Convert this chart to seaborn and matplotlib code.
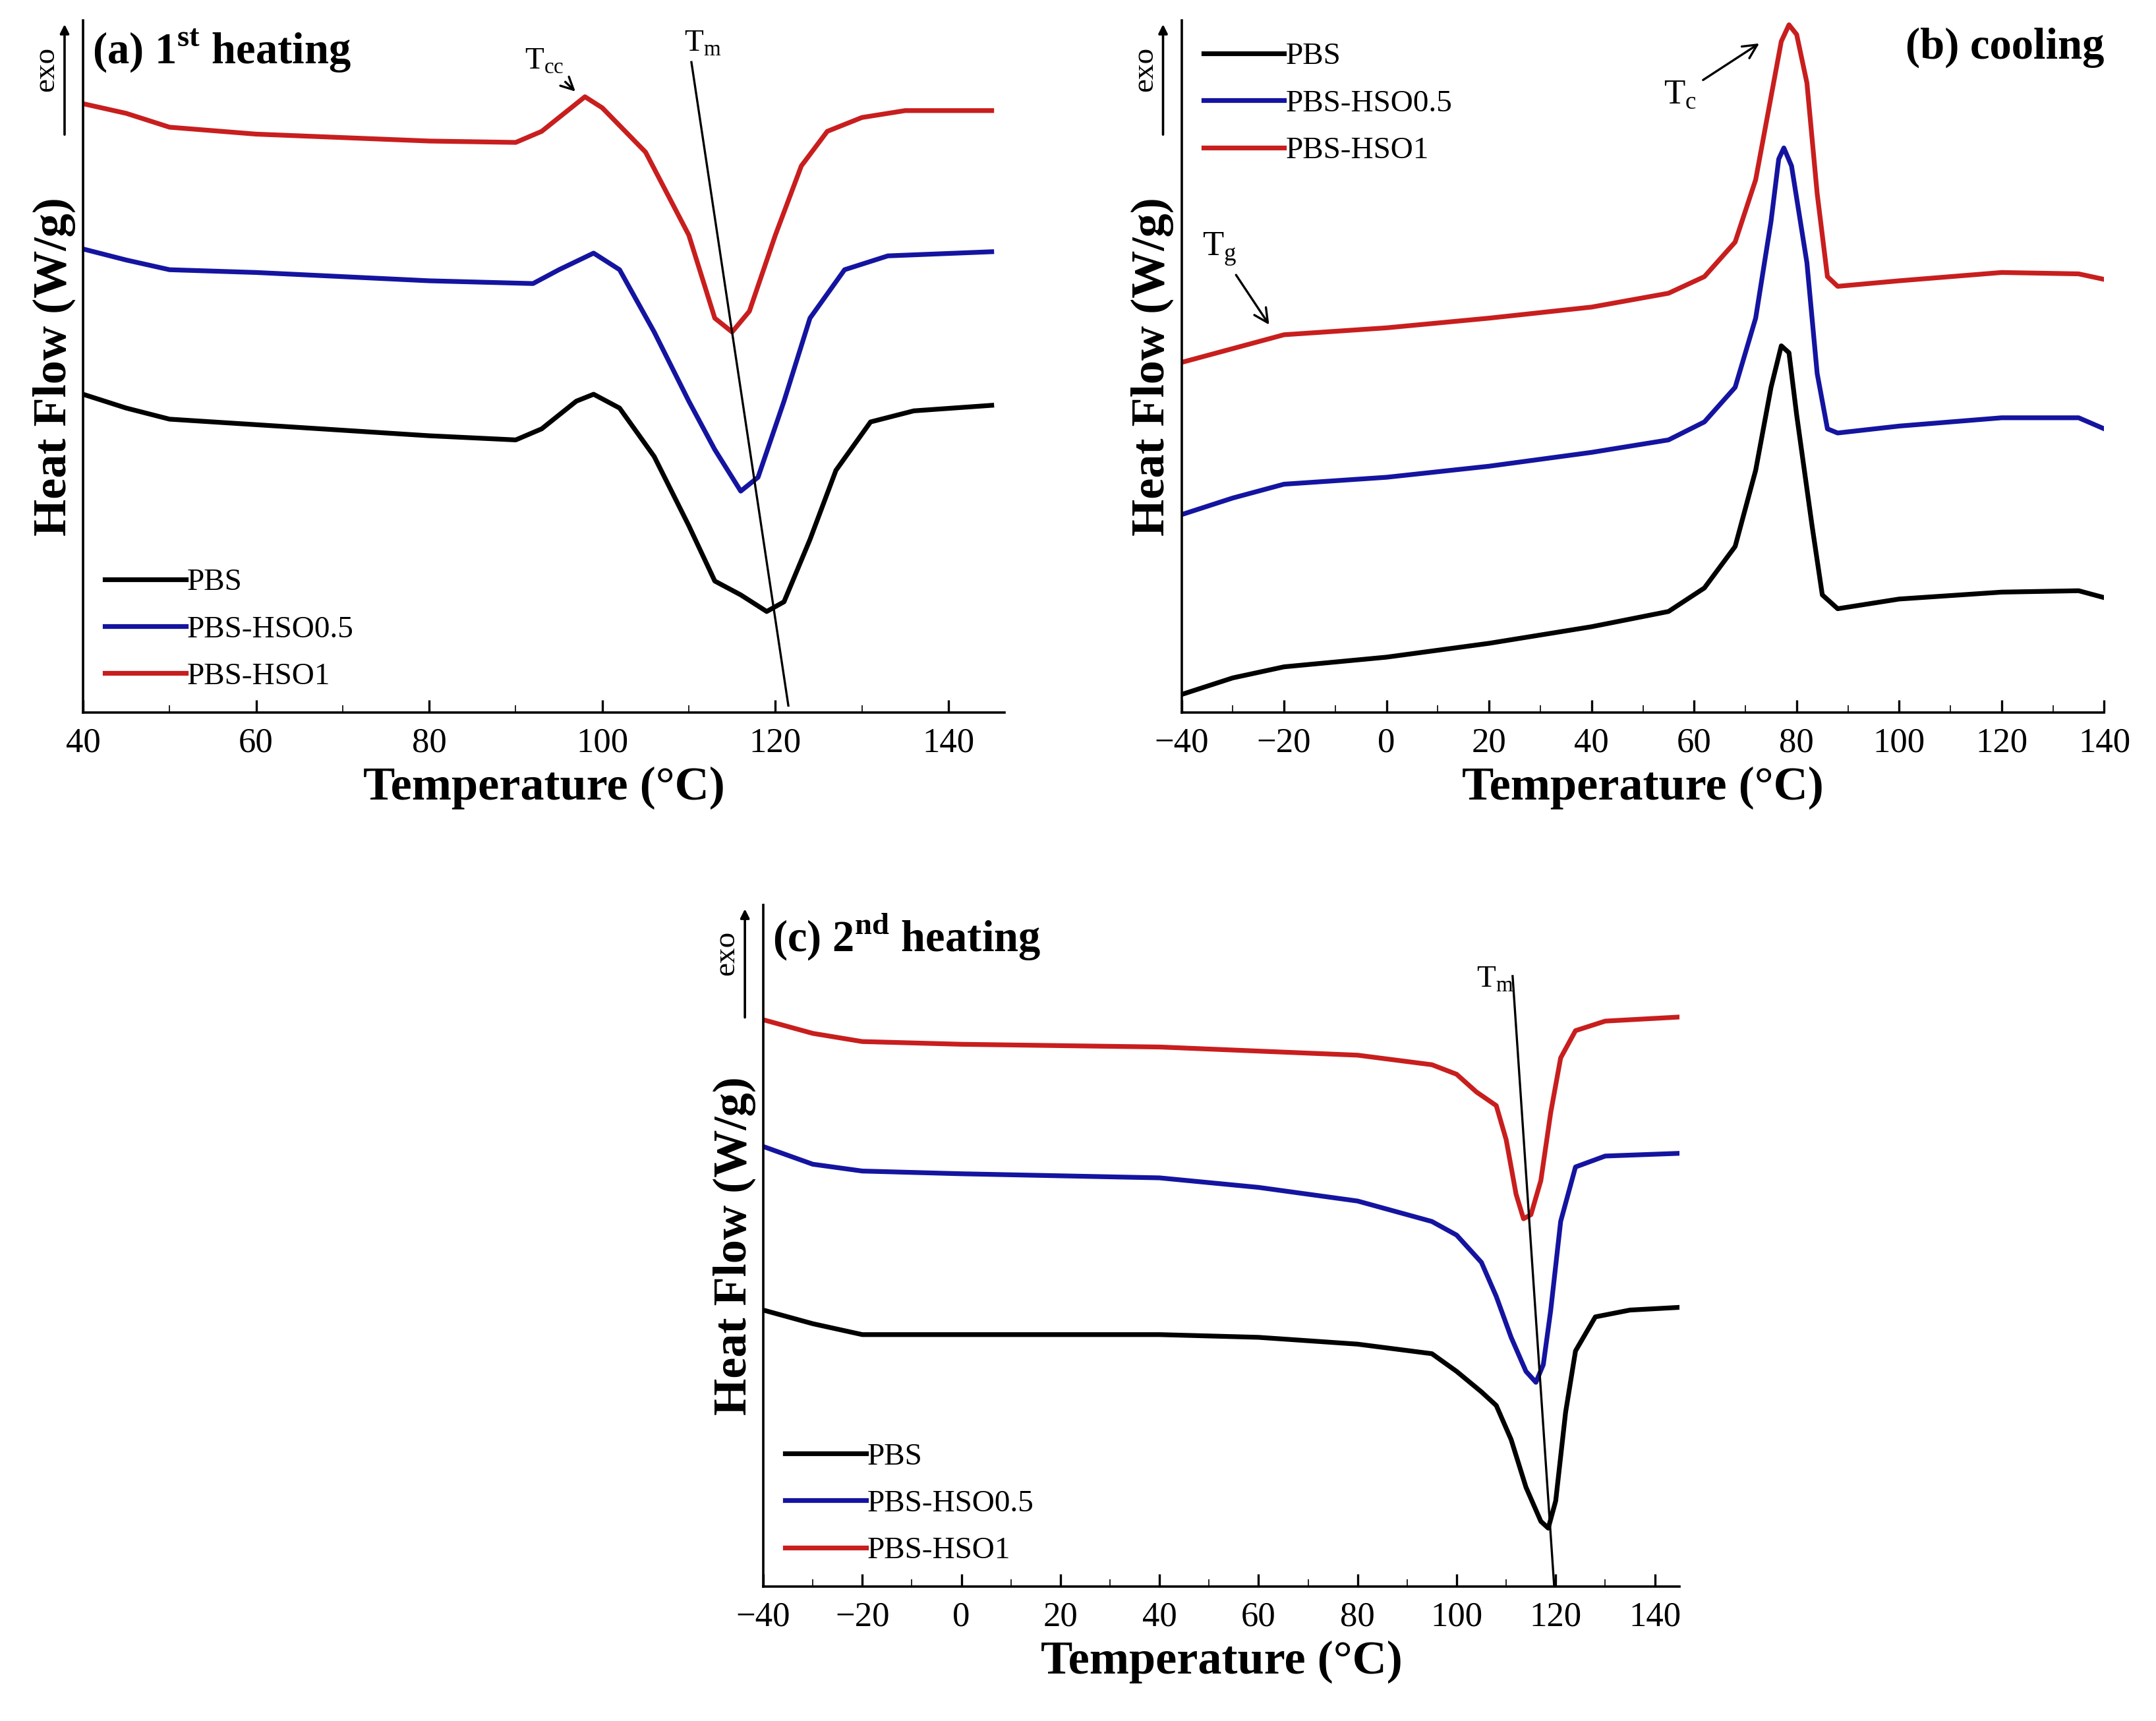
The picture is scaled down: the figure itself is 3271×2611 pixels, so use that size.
import matplotlib
matplotlib.use("Agg")
import matplotlib.pyplot as plt
import seaborn as sns
import numpy as np

plt.rcParams["font.family"] = "Liberation Serif"
plt.rcParams["mathtext.fontset"] = "custom"
plt.rcParams["mathtext.rm"] = "Liberation Serif"
plt.rcParams["mathtext.bf"] = "Liberation Serif:bold"

names = ["PBS", "PBS-HSO0.5", "PBS-HSO1"]
colors = ["#000000", "#1414a0", "#c81e1e"]

# Panel (a) 1st heating: (temperature, relative heat flow)
a_x_red = [40,45,50,60,80,90,93,96,98,100,105,110,113,115,117,120,123,126,130,135,145]
a_y_red = [440,433,423,418,413,412,420,435,445,437,405,345,285,275,290,345,395,420,430,435,435]
a_x_blue = [40,45,50,60,80,92,95,99,102,106,110,113,116,118,121,124,128,133,145]
a_y_blue = [335,327,320,318,312,310,320,332,320,275,225,190,160,170,225,285,320,330,333]
a_x_black = [40,45,50,60,80,90,93,97,99,102,106,110,113,116,119,121,124,127,131,136,145]
a_y_black = [230,220,212,208,200,197,205,225,230,220,185,135,95,85,73,80,125,175,210,218,222]

# Panel (b) cooling
b_x_red = [-40,-30,-20,0,20,40,55,62,68,72,75,77,78.5,80,82,84,86,88,100,120,135,140]
b_y_red = [253,263,273,278,285,293,303,315,340,385,445,485,497,490,455,375,315,308,312,318,317,313]
b_x_blue = [-40,-30,-20,0,20,40,55,62,68,72,75,76.5,77.5,79,82,84,86,88,100,120,135,140]
b_y_blue = [143,155,165,170,178,188,197,210,235,285,355,400,408,395,325,245,205,202,207,213,213,205]
b_x_black = [-40,-30,-20,0,20,40,55,62,68,72,75,77,78.5,80,83,85,88,100,120,135,140]
b_y_black = [13,25,33,40,50,62,73,90,120,175,235,265,260,215,135,85,75,82,87,88,83]

# Panel (c) 2nd heating
c_x_red = [-40,-30,-20,0,40,60,80,95,100,104,108,110,112,113.5,115,117,119,121,124,130,145]
c_y_red = [416,406,400,398,396,393,390,383,376,363,353,328,288,270,273,298,348,388,408,415,418]
c_x_blue = [-40,-30,-20,0,40,60,80,95,100,105,108,111,114,116,117.5,119,121,124,130,145]
c_y_blue = [323,310,305,303,300,293,283,268,258,238,213,183,158,150,163,203,268,308,316,318]
c_x_black = [-40,-30,-20,0,40,60,80,95,100,105,108,111,114,117,118.5,120,122,124,128,135,145]
c_y_black = [203,193,185,185,185,183,178,171,158,143,133,108,73,48,43,63,128,173,198,203,205]

ticks_a = [40,60,80,100,120,140]
ticks_bc = [-40,-20,0,20,40,60,80,100,120,140]

fig = plt.figure(figsize=(16.355, 13.055), dpi=200)
axa = fig.add_axes([0.0385, 0.586, 0.4275, 0.402])
axb = fig.add_axes([0.548, 0.586, 0.428, 0.402])
axc = fig.add_axes([0.354, 0.078, 0.425, 0.396])

def draw(ax, series, xlim, ticks, legloc, title, tloc):
    for (x, y), n, c in zip(series, names, colors):
        sns.lineplot(x=x, y=y, ax=ax, color=c, lw=2.6, label=n)
    ax.set_xlim(*xlim)
    ax.set_ylim(0, 500)
    ax.set_xticks(ticks)
    ax.set_xticks(np.arange(ticks[0], xlim[1] + 0.1, 10), minor=True)
    ax.set_yticks([])
    for s in ["top", "right"]:
        ax.spines[s].set_visible(False)
    for s in ["left", "bottom"]:
        ax.spines[s].set_linewidth(1.3)
    ax.tick_params(axis="x", direction="in", labelsize=19, length=7, width=1.2, pad=8)
    ax.tick_params(axis="x", which="minor", direction="in", length=4)
    ax.set_xlabel("Temperature (°C)", fontsize=26, fontweight="bold")
    ax.set_ylabel("Heat Flow (W/g)", fontsize=26, fontweight="bold")
    h, l = ax.get_legend_handles_labels()
    ax.legend(h, l, loc=legloc, frameon=False, fontsize=17, handlelength=2.6,
              handletextpad=0.05, labelspacing=0.6, borderaxespad=0.3)
    ax.text(tloc[0], tloc[1], title, transform=ax.transAxes, fontsize=24,
            fontweight="bold", ha=tloc[2], va="top")
    ax.annotate("", xy=(-0.02, 1.0), xytext=(-0.02, 0.83), xycoords="axes fraction",
                arrowprops=dict(arrowstyle="-|>", color="black", lw=1.3), annotation_clip=False)
    ax.text(-0.04, 0.93, "exo", transform=ax.transAxes, rotation=90, fontsize=17,
            ha="center", va="center")

draw(axa, [(a_x_black, a_y_black), (a_x_blue, a_y_blue), (a_x_red, a_y_red)],
     (40, 146.5), ticks_a, "lower left", r"(a) 1$^{\mathbf{st}}$ heating", (0.01, 0.99, "left"))
draw(axb, [(b_x_black, b_y_black), (b_x_blue, b_y_blue), (b_x_red, b_y_red)],
     (-40, 140), ticks_bc, "upper left", "(b) cooling", (1.0, 0.99, "right"))
draw(axc, [(c_x_black, c_y_black), (c_x_blue, c_y_blue), (c_x_red, c_y_red)],
     (-40, 145), ticks_bc, "lower left", r"(c) 2$^{\mathbf{nd}}$ heating", (0.01, 0.99, "left"))

# annotations
axa.plot([110.3, 121.5], [470, 5], color="black", lw=1.2)
axa.text(109.5, 478, r"T$_{\rm m}$", fontsize=17)
axa.annotate(r"T$_{\rm cc}$", xy=(97.2, 447), xytext=(91, 465), fontsize=17,
             arrowprops=dict(arrowstyle="->", lw=1.2))
axb.annotate(r"T$_{\rm c}$", xy=(73.3, 485), xytext=(54, 440), fontsize=19,
             arrowprops=dict(arrowstyle="->", lw=1.2))
axb.annotate(r"T$_{\rm g}$", xy=(-22.5, 278), xytext=(-36, 330), fontsize=19,
             arrowprops=dict(arrowstyle="->", lw=1.2))
axc.plot([111.3, 119.7], [448, 0], color="black", lw=1.2)
axc.text(104, 440, r"T$_{\rm m}$", fontsize=17)

fig.savefig("out.png", dpi=200)
